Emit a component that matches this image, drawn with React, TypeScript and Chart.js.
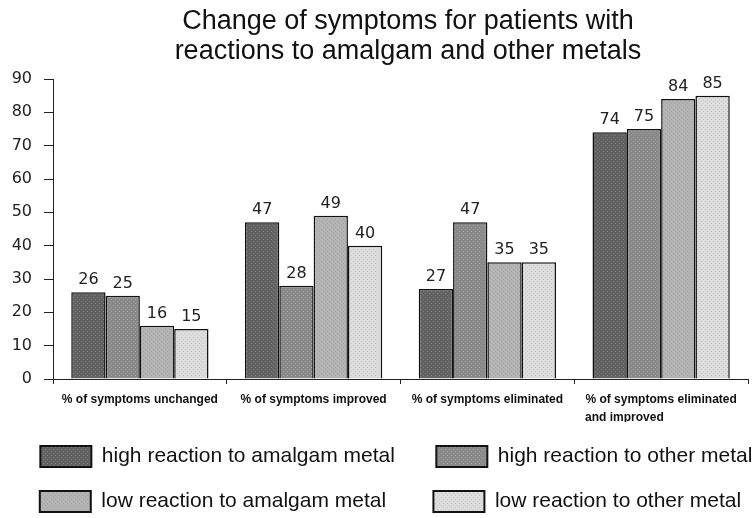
import { useEffect, useRef } from "react";
import { Chart, registerables } from "chart.js";

Chart.register(...registerables);

// Categories on the x axis (the last one wraps onto two lines)
const categories: (string | string[])[] = [
  "% of symptoms unchanged",
  "% of symptoms improved",
  "% of symptoms eliminated",
  ["% of symptoms eliminated", "and improved"],
];

const seriesNames = [
  "high reaction to amalgam metal",
  "high reaction to other metal",
  "low reaction to amalgam metal",
  "low reaction to other metal",
];

const highAmalgam = [26, 47, 27, 74];
const highOther = [25, 28, 47, 75];
const lowAmalgam = [16, 49, 35, 84];
const lowOther = [15, 40, 35, 85];

const yTicks = [0, 10, 20, 30, 40, 50, 60, 70, 80, 90];

const titleLines = [
  "Change of symptoms for patients with",
  "reactions to amalgam and other metals",
];

const TITLE_FONT = '"Liberation Sans", Arial, sans-serif';
const NUM_FONT = '"DejaVu Sans", sans-serif';

const measurer = document.createElement("canvas").getContext("2d")!;

// Pad a label with trailing spaces to the width closest to a target,
// so centred multi-line text and legend columns line up
function padTo(text: string, font: string, target: number): string {
  measurer.font = font;
  let s = text;
  while (measurer.measureText(s + " ").width <= target) s += " ";
  const under = target - measurer.measureText(s).width;
  const over = measurer.measureText(s + " ").width - target;
  return over < under ? s + " " : s;
}

// Small dotted fill used for the bars and legend swatches
function dotted(ctx: CanvasRenderingContext2D, base: string, dot: string): CanvasPattern | string {
  const c = document.createElement("canvas");
  c.width = 4;
  c.height = 4;
  const g = c.getContext("2d")!;
  g.fillStyle = base;
  g.fillRect(0, 0, 4, 4);
  g.fillStyle = dot;
  g.fillRect(1, 1, 1, 1);
  g.fillRect(3, 3, 1, 1);
  return ctx.createPattern(c, "repeat") || base;
}

const valueLabels = {
  id: "valueLabels",
  afterDatasetsDraw(chart: any) {
    const { ctx } = chart;
    ctx.save();
    ctx.font = `16px ${NUM_FONT}`;
    ctx.fillStyle = "#222";
    ctx.textAlign = "center";
    ctx.textBaseline = "alphabetic";
    chart.data.datasets.forEach((ds: any, i: number) => {
      const meta = chart.getDatasetMeta(i);
      meta.data.forEach((bar: any, j: number) => {
        ctx.fillText(String(ds.data[j]), bar.x, bar.y - 8);
      });
    });
    ctx.restore();
  },
};

export default function App() {
  const ref = useRef<HTMLCanvasElement>(null);

  useEffect(() => {
    const canvas = ref.current!;
    const ctx = canvas.getContext("2d")!;

    const fills = [
      dotted(ctx, "#636363", "#767676"),
      dotted(ctx, "#8a8a8a", "#9a9a9a"),
      dotted(ctx, "#b3b3b3", "#a6a6a6"),
      dotted(ctx, "#dcdcdc", "#cbcbcb"),
    ];
    const values = [highAmalgam, highOther, lowAmalgam, lowOther];

    const legendFont = `21px ${TITLE_FONT}`;
    const xFont = `bold 12px ${TITLE_FONT}`;

    const chart = new Chart(canvas, {
      type: "bar",
      data: {
        labels: categories,
        datasets: seriesNames.map((name, i) => ({
          label: name,
          data: values[i],
          backgroundColor: fills[i] as any,
          borderColor: "#111",
          borderWidth: 1.5,
          categoryPercentage: 0.79,
          barPercentage: 1,
        })),
      },
      options: {
        responsive: false,
        animation: false,
        devicePixelRatio: 1,
        layout: { padding: 0 },
        scales: {
          x: {
            grid: {
              drawOnChartArea: false,
              drawTicks: true,
              tickLength: 5,
              color: "#222",
              offset: true,
            },
            border: { color: "#222", width: 1 },
            ticks: {
              color: "#111",
              font: { family: TITLE_FONT, size: 12, weight: "bold", lineHeight: 1.5 },
              padding: 7,
              maxRotation: 0,
              autoSkip: false,
              callback: (_v: any, index: number) => {
                const lab = categories[index];
                if (Array.isArray(lab)) {
                  measurer.font = xFont;
                  const w = measurer.measureText(lab[0]).width;
                  return lab.map((l, k) => (k === 0 ? l : padTo(l, xFont, w)));
                }
                return lab;
              },
            },
            afterFit: (s: any) => {
              s.height = 43;
            },
          },
          y: {
            min: 0,
            max: 90,
            grid: {
              drawOnChartArea: false,
              drawTicks: true,
              tickLength: 9,
              color: "#222",
            },
            border: { color: "#222", width: 1 },
            ticks: {
              stepSize: 10,
              color: "#222",
              padding: 12,
              font: { family: NUM_FONT, size: 16 },
              callback: (v: any) => (yTicks.includes(Number(v)) ? String(v) : ""),
            },
            afterFit: (s: any) => {
              s.width = 53;
            },
          },
          spacer: {
            type: "linear",
            position: "right",
            display: true,
            grid: { display: false },
            border: { display: false },
            ticks: { display: false },
            afterFit: (s: any) => {
              s.width = 68;
            },
          },
        },
        plugins: {
          title: {
            display: true,
            text: titleLines,
            color: "#111",
            font: { family: TITLE_FONT, size: 27, weight: "normal", lineHeight: 30 / 27 },
            padding: { top: 7, bottom: 12 },
          },
          legend: {
            position: "bottom",
            labels: {
              color: "#111",
              font: { family: TITLE_FONT, size: 21 },
              boxWidth: 51,
              boxHeight: 21,
              padding: 24,
              generateLabels: (c: any) => {
                const items = (Chart.defaults.plugins.legend.labels as any).generateLabels(c);
                items.forEach((it: any, i: number) => {
                  it.text = padTo(it.text, legendFont, i % 2 === 0 ? 309 : 279);
                  it.lineWidth = 2;
                  it.strokeStyle = "#111";
                });
                return items;
              },
            },
          },
          tooltip: { enabled: false },
        },
      } as any,
      plugins: [valueLabels],
    });

    return () => chart.destroy();
  }, []);

  return (
    <div
      style={{
        position: "fixed",
        left: 0,
        top: 0,
        width: 756,
        height: 518,
        overflow: "hidden",
        background: "#fff",
      }}
    >
      <canvas ref={ref} width={816} height={522} style={{ display: "block", width: 816, height: 522 }} />
    </div>
  );
}
